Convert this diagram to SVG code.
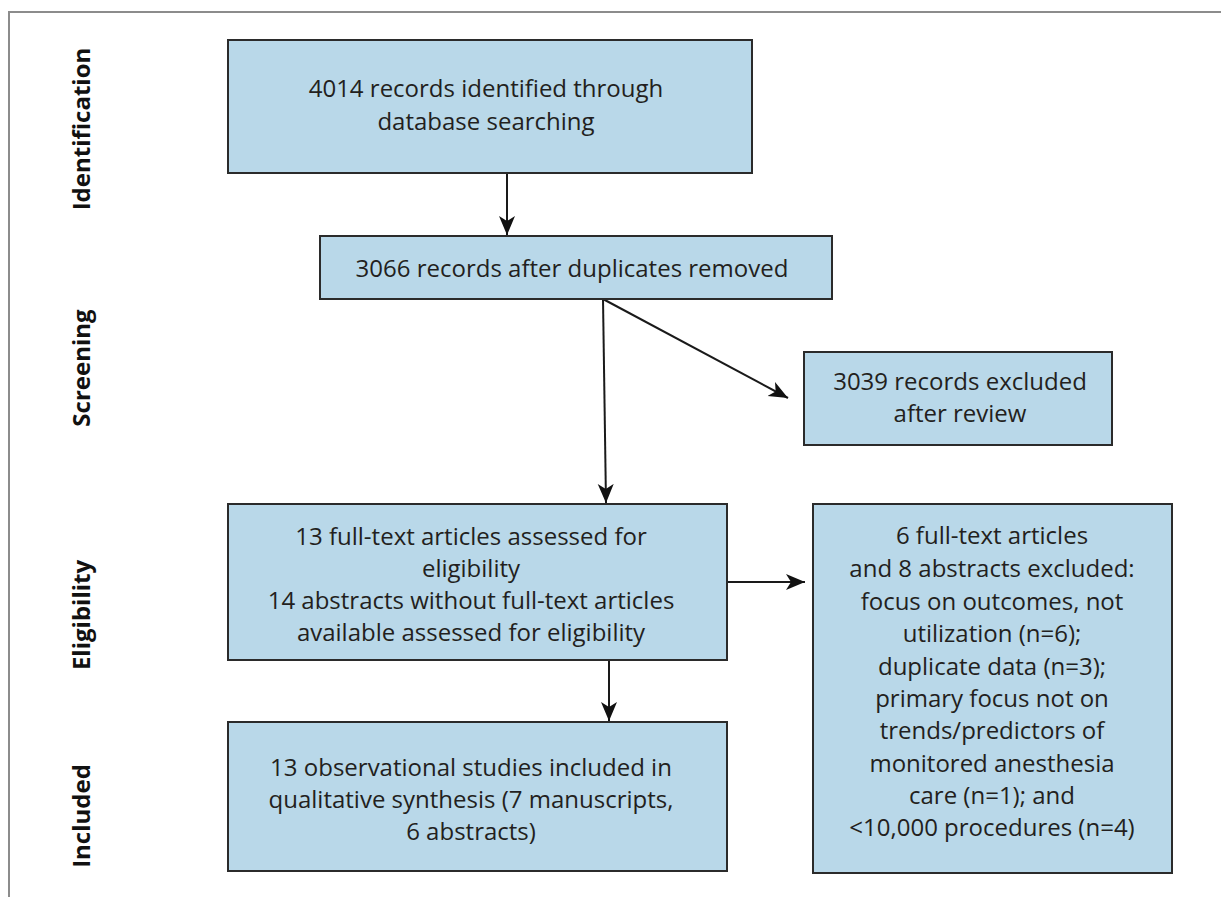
<svg xmlns="http://www.w3.org/2000/svg" width="1221" height="897" viewBox="0 0 1221 897">
<defs>
<style>
.box{fill:#b9d8e9;stroke:#2b2b2b;stroke-width:2}
.t{font-family:"Open Sans","Liberation Sans",sans-serif;font-size:24px;fill:#231f20;text-anchor:middle}
.lab{font-family:"Open Sans","Liberation Sans",sans-serif;font-size:24px;font-weight:bold;fill:#111;text-anchor:middle}
.c{stroke:#1a1a1a;stroke-width:2;fill:none}
</style>
<marker id="ah" markerUnits="userSpaceOnUse" markerWidth="22" markerHeight="20" refX="19" refY="8" orient="auto">
<path d="M0,0 L19,8 L0,16 L5,8 z" fill="#111"/>
</marker>
</defs>
<rect width="1221" height="897" fill="#fff"/>
<path d="M9,897 V12 H1221" stroke="#8c8c8c" stroke-width="2" fill="none"/>
<g id="labels">
<text class="lab" transform="translate(90,129) rotate(-90)">Identification</text>
<text class="lab" transform="translate(90,368) rotate(-90)">Screening</text>
<text class="lab" transform="translate(90,615) rotate(-90)">Eligibility</text>
<text class="lab" transform="translate(90,816) rotate(-90)">Included</text>
</g>
<g id="connectors">
<line class="c" x1="507" y1="173" x2="507" y2="235" marker-end="url(#ah)"/>
<line class="c" x1="603" y1="299" x2="606" y2="503" marker-end="url(#ah)"/>
<line class="c" x1="603" y1="299" x2="788" y2="398" marker-end="url(#ah)"/>
<line class="c" x1="727" y1="582" x2="805" y2="582" marker-end="url(#ah)"/>
<line class="c" x1="609" y1="660" x2="609" y2="721" marker-end="url(#ah)"/>
</g>
<g id="n1">
<rect class="box" x="228" y="40" width="524" height="133"/>
<text class="t" x="486" y="97">4014 records identified through</text>
<text class="t" x="486" y="130">database searching</text>
</g>
<g id="n2">
<rect class="box" x="320" y="236" width="512" height="63"/>
<text class="t" x="572" y="277">3066 records after duplicates removed</text>
</g>
<g id="n3">
<rect class="box" x="804" y="352" width="308" height="93"/>
<text class="t" x="960" y="390">3039 records excluded</text>
<text class="t" x="960" y="422">after review</text>
</g>
<g id="n4">
<rect class="box" x="228" y="504" width="499" height="156"/>
<text class="t" x="471" y="545">13 full-text articles assessed for</text>
<text class="t" x="471" y="577">eligibility</text>
<text class="t" x="471" y="609">14 abstracts without full-text articles</text>
<text class="t" x="471" y="641">available assessed for eligibility</text>
</g>
<g id="n5">
<rect class="box" x="813" y="504" width="359" height="369"/>
<text class="t" x="992" y="544">6 full-text articles</text>
<text class="t" x="992" y="577">and 8 abstracts excluded:</text>
<text class="t" x="992" y="610">focus on outcomes, not</text>
<text class="t" x="992" y="642">utilization (n=6);</text>
<text class="t" x="992" y="675">duplicate data (n=3);</text>
<text class="t" x="992" y="707">primary focus not on</text>
<text class="t" x="992" y="739">trends/predictors of</text>
<text class="t" x="992" y="772">monitored anesthesia</text>
<text class="t" x="992" y="804">care (n=1); and</text>
<text class="t" x="992" y="836">&lt;10,000 procedures (n=4)</text>
</g>
<g id="n6">
<rect class="box" x="228" y="722" width="499" height="149"/>
<text class="t" x="471" y="776">13 observational studies included in</text>
<text class="t" x="471" y="808">qualitative synthesis (7 manuscripts,</text>
<text class="t" x="471" y="840">6 abstracts)</text>
</g>
</svg>
